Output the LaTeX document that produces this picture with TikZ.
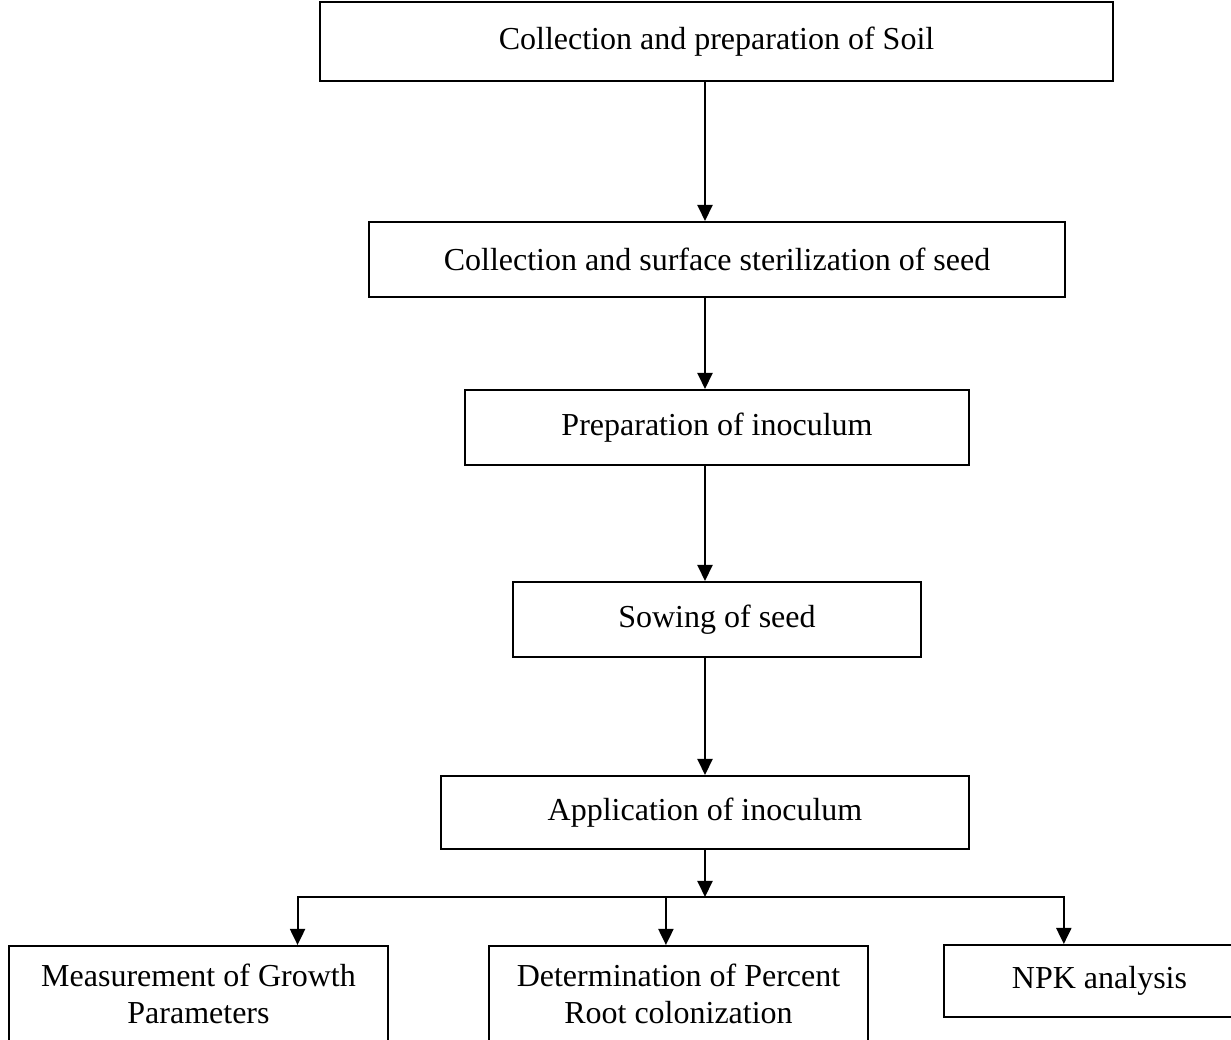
\documentclass[tikz,border=0pt]{standalone}
\usepackage{fontspec}
\setmainfont{Liberation Serif}
\usetikzlibrary{arrows.meta,calc}

\begin{document}
\begin{tikzpicture}[
    stepbox/.style={draw, line width=0.026cm, inner sep=0pt, align=center, font=\fontsize{12}{14}\selectfont},
    outbox/.style={stepbox, anchor=north, align=flush center, text width=4.995100cm, inner ysep=0.211700cm, text height=9pt, text depth=60pt},
    flow/.style={line width=0.026cm, -{Triangle[length=0.211000cm,width=0.198000cm]}}
  ]
                    \useasboundingbox (0,0) rectangle (16.224200,13.706900);

                    % Drawing box soil
                    \node [stepbox, minimum width=10.451500cm, minimum height=1.041200cm] (soil) at (9.443300,13.159900) {Collection and preparation of Soil};

                    % Drawing box seed
                    \node [stepbox, minimum width=9.173100cm, minimum height=0.988500cm] (seed) at (9.449800,10.286800) {Collection and surface sterilization of seed};

                    % Drawing box inoculum
                    \node [stepbox, minimum width=6.642600cm, minimum height=0.988500cm] (inoculum) at (9.449800,8.072600) {Preparation of inoculum};

                    % Drawing box sowing
                    \node [stepbox, minimum width=5.377300cm, minimum height=0.988500cm] (sowing) at (9.449800,5.542100) {Sowing of seed};

                    % Drawing box apply
                    \node [stepbox, minimum width=6.958900cm, minimum height=0.962100cm] (apply) at (9.291700,2.998400) {Application of inoculum};

                    % Drawing the three result boxes
                    \node [outbox] (growth) at (2.616200,1.252100) {Measurement of Growth\\Parameters};
                    \node [outbox] (percent) at (8.942400,1.252100) {Determination of Percent\\Root colonization};
                    \node [stepbox, minimum width=4.098900cm, minimum height=0.948900cm] (npk) at (14.491100,0.777600) {NPK analysis};

                    % Marking the split point and the arrow ends
                    \coordinate (split) at (9.291700,1.884700);
                    \coordinate (gin) at ($(growth.north west)!0.760!(growth.north east)$);
                    \coordinate (pin) at ($(percent.north west)!0.467!(percent.north east)$);
                    \coordinate (nin) at ($(npk.north west)!0.386!(npk.north east)$);

                    % Drawing the main arrows
                    \draw [flow] (soil.south -| apply.north) -- (seed.north -| apply.north);
                    \draw [flow] (seed.south -| apply.north) -- (inoculum.north -| apply.north);
                    \draw [flow] (inoculum.south -| apply.north) -- (sowing.north -| apply.north);
                    \draw [flow] (sowing.south -| apply.north) -- (apply.north);
                    \draw [flow] (apply.south) -- (split);

                    % Drawing the branches
                    \draw [flow] (split) -| (gin);
                    \draw [flow] (split) -| (nin);
                    \draw [flow] (pin |- split) -- (pin);
\end{tikzpicture}
\end{document}
